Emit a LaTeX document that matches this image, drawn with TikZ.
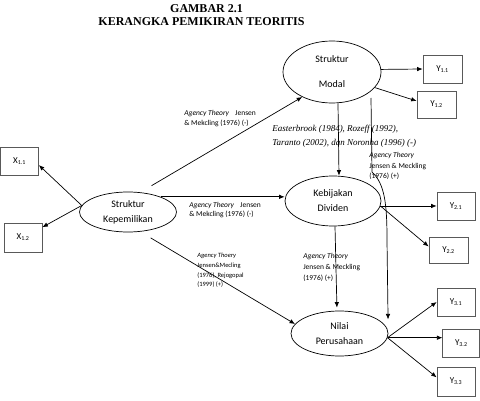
\documentclass[tikz,border=0pt]{standalone}
\usepackage{fontspec}
\setmainfont{Carlito}
\newfontfamily\timesrm{Liberation Serif}
\usepackage{tikz}
\usetikzlibrary{arrows,arrows.meta,shapes}

\begin{document}
\begin{tikzpicture}[x=1pt, y=-1pt, >={Latex[length=5.5pt,width=4.5pt]}, line width=0.7pt,
  var/.style={ellipse, draw, inner sep=0pt, align=center, font=\fontsize{10}{15}\selectfont},
  ind/.style={rectangle, draw=black!65, minimum width=38pt, minimum height=28pt, inner sep=0pt, font=\fontsize{9}{10}\selectfont},
  note/.style={anchor=north west, inner sep=0pt, align=left, font=\fontsize{7.5}{10}\selectfont},
  title/.style={inner sep=0pt, font=\timesrm\bfseries\fontsize{12}{14}\selectfont}]
\useasboundingbox (0,0) rectangle (480,401);

\node[title] (t1) at (206.5,8.4) {GAMBAR 2.1};
\node[title] (t2) at (201.5,21.8) {KERANGKA PEMIKIRAN TEORITIS};

\node[var, minimum width=98pt, minimum height=62pt] (modal) at (332,72) {Struktur\\[10pt]Modal};
\node[var, minimum width=97pt, minimum height=40pt] (kep) at (128,212) {Struktur\\Kepemilikan};
\node[var, minimum width=96pt, minimum height=50pt] (keb) at (333,201) {Kebijakan\\Dividen};
\node[var, minimum width=97pt, minimum height=45pt] (nilai) at (339.5,333.5) {Nilai\\Perusahaan};

\node[ind] (x11) at (19.5,161) {X\textsubscript{1.1}};
\node[ind, minimum height=29pt] (x12) at (23,237.5) {X\textsubscript{1.2}};
\node[ind, minimum width=39pt] (y11) at (442.5,69) {Y\textsubscript{1.1}};
\node[ind, minimum width=39pt, minimum height=27pt] (y12) at (436.5,104.5) {Y\textsubscript{1.2}};
\node[ind] (y21) at (456,206) {Y\textsubscript{2.1}};
\node[ind, minimum width=39pt, minimum height=26pt] (y22) at (448.5,250) {Y\textsubscript{2.2}};
\node[ind] (y31) at (456,302) {Y\textsubscript{3.1}};
\node[ind, minimum width=37pt] (y32) at (461.3,343) {Y\textsubscript{3.2}};
\node[ind, minimum height=29pt] (y33) at (456,381.5) {Y\textsubscript{3.3}};

\node[note] (n1) at (184,109.5) {\textit{Agency Theory}\hspace{6pt}Jensen\\\& Mekcling (1976) (-)};
\node[note, font=\timesrm\itshape\fontsize{9}{13.5}\selectfont] (n2) at (272,125) {Easterbrook (1984), Rozeff (1992),\\Taranto (2002), dan Noronha (1996) (-)};
\node[note, font=\fontsize{7.5}{10.7}\selectfont] (n3) at (369,152) {\textit{Agency Theory}\\Jensen \& Meckling\\(1976) (+)};
\node[note, font=\fontsize{7.5}{9.6}\selectfont] (n4) at (189,201.5) {\textit{Agency Theory}\hspace{6pt}Jensen\\\& Mekcling (1976) (-)};
\node[note, font=\fontsize{6.5}{9.7}\selectfont] (n5) at (197,253) {\textit{Agency Thoery}\\Jensen\&Mecling\\(1976), Rejogopal\\(1999) (+)};
\node[note, font=\fontsize{7.5}{11}\selectfont] (n6) at (303,253) {\textit{Agency Theory}\\Jensen \& Meckling\\(1976) (+)};

\coordinate (m1) at (371,98);

\draw[->] (kep.172) -- (x11.-12);
\draw[->] (kep.172) -- (x12.28);
\draw[->, shorten <=13pt] (kep.58) -- (modal.220);
\draw[->] (kep.25) -- (kep.25 -| keb.west);
\draw[->, shorten <=12pt] (kep.-58) -- (nilai.168);
\draw[->] ([xshift=6pt]modal.south) -- ([xshift=6pt]keb.north);
\draw[->] (m1) -- (372,172) .. controls (385,184) and (387,205) .. (387,240) -- ([xshift=10pt]nilai.20);
\draw[->, shorten >=3pt] ([xshift=2pt]keb.south) -- ([xshift=-2.5pt]nilai.north);
\draw[->] (modal.3) -- (y11.west);
\draw[->] (modal.-20) -- (y12.170);
\draw[->] (keb.-6) -- (keb.-6 -| y21.west);
\draw[->] (keb.-6) -- (y22.170);
\draw[->] (nilai.-5) -- (y31.west);
\draw[->] (nilai.-5) -- (nilai.-5 -| y32.west);
\draw[->] (nilai.-5) -- (y33.168);
\end{tikzpicture}
\end{document}
